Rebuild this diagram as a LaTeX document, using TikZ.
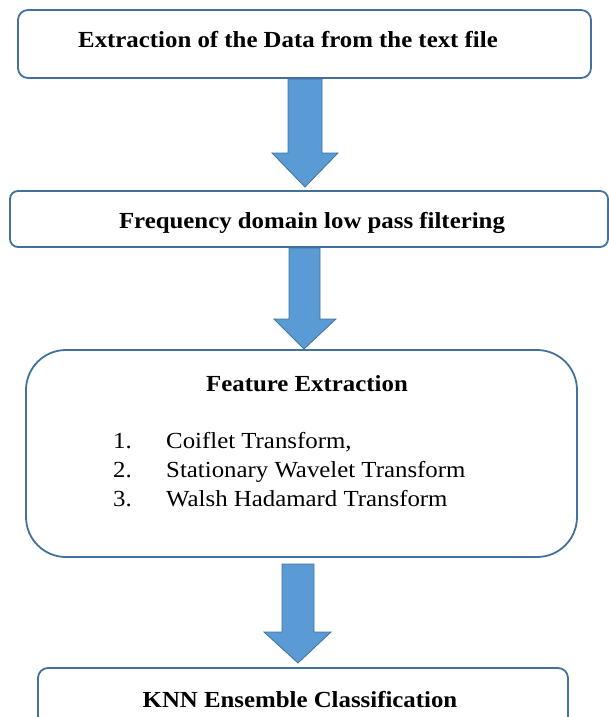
\documentclass[tikz,border=0pt]{standalone}
\usepackage{fontspec}
\setmainfont{Liberation Serif}[FakeStretch=1.08]
\definecolor{edge}{HTML}{41719C}
\definecolor{arrowfill}{HTML}{5B9BD5}
\tikzset{
  stepbox/.style={draw=edge, line width=1.8pt, fill=white},
  fatarrow/.style={draw=edge, line width=0.8pt, fill=arrowfill, line join=miter},
  boxtext/.style={font=\fontsize{23}{27}\selectfont\bfseries, anchor=base, inner sep=0pt},
  listtext/.style={font=\fontsize{23}{27}\selectfont, anchor=base west, inner sep=0pt}
}
\begin{document}
\begin{tikzpicture}[x=1pt,y=-1pt]
\useasboundingbox (0,0) rectangle (609,717);
% boxes
\draw[stepbox, rounded corners=10pt] (18,10) rectangle (591,78);
\draw[stepbox, rounded corners=8pt] (10,191) rectangle (608,247);
\draw[stepbox, rounded corners=40pt] (26,350) rectangle (577,557);
\draw[stepbox, rounded corners=10pt] (38,668) rectangle (568,740);
% arrows
\draw[fatarrow] (288,79) -- (322,79) -- (322,153) -- (338,153) -- (305,187) -- (272,153) -- (288,153) -- cycle;
\draw[fatarrow] (289,248) -- (320,248) -- (320,319) -- (336,319) -- (304,349) -- (274,319) -- (289,319) -- cycle;
\draw[fatarrow] (282,564) -- (314,564) -- (314,632) -- (331,632) -- (298,663) -- (264,632) -- (282,632) -- cycle;
% texts
\node[boxtext] (t1) at (288,48) {Extraction of the Data from the text file};
\node[boxtext] (t2) at (312,228) {Frequency domain low pass filtering};
\node[boxtext] (t3) at (307,391) {Feature Extraction};
\node[listtext] (n1) at (113,448) {1.};
\node[listtext] (l1) at (166,448) {Coiflet Transform,};
\node[listtext] (n2) at (113,477) {2.};
\node[listtext] (l2) at (166,477) {Stationary Wavelet Transform};
\node[listtext] (n3) at (113,506) {3.};
\node[listtext] (l3) at (166,506) {Walsh Hadamard Transform};
\node[boxtext] (t4) at (300,707) {KNN Ensemble Classification};
\end{tikzpicture}
\end{document}
